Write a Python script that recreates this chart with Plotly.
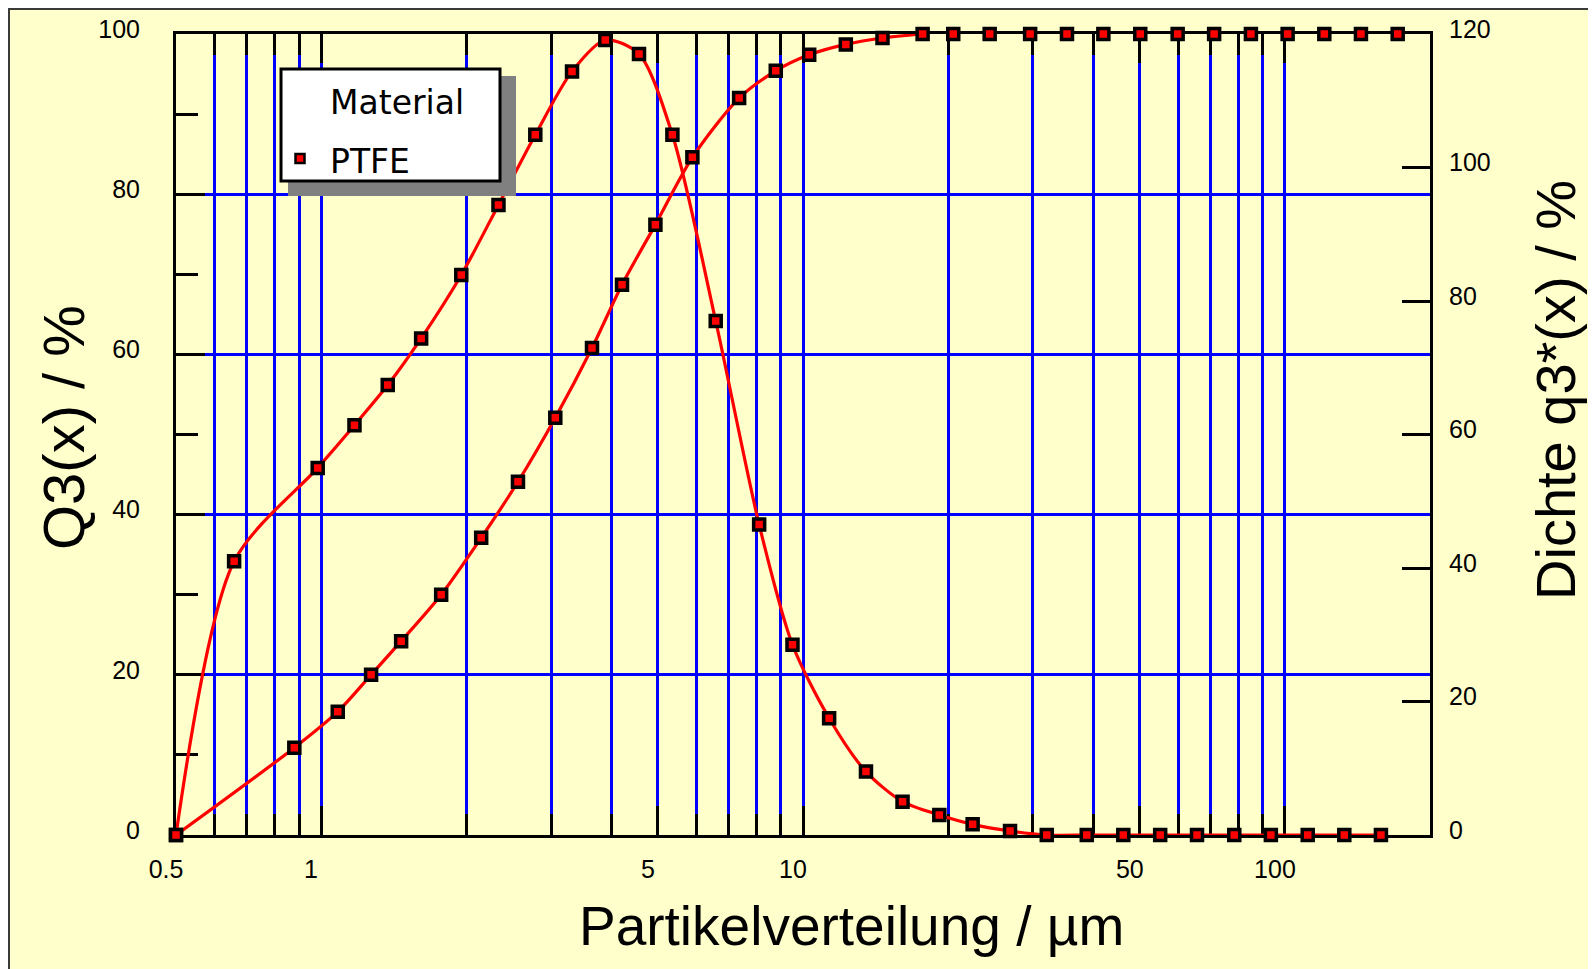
import plotly.graph_objects as go

# ---------------- data ----------------
# cumulative distribution Q3(x), left axis
q3_x = [0.5, 0.88, 1.083, 1.27, 1.466, 1.775, 2.149, 2.562, 3.062, 3.649, 4.212,
        4.94, 5.895, 7.37, 8.78, 10.3, 12.27, 14.62, 17.71, 20.5, 24.4, 29.6,
        35.3, 42.0, 50.1, 59.9, 71.3, 85.0, 101.3, 120.7, 143.8, 171.4]
q3_y = [0, 10.9, 15.4, 20.0, 24.2, 30.0, 37.1, 44.1, 52.1, 60.8, 68.7,
        76.2, 84.6, 92.0, 95.4, 97.4, 98.7, 99.5, 100, 100, 100, 100,
        100, 100, 100, 100, 100, 100, 100, 100, 100, 100]
q3_line_points = 19  # the Q3 curve is only drawn up to ~17.7 µm

# density distribution q3*(x), right axis
dens_x = [0.5, 0.66, 0.984, 1.173, 1.375, 1.613, 1.954, 2.334, 2.783, 3.317, 3.889,
          4.568, 5.358, 6.59, 8.11, 9.51, 11.33, 13.51, 16.09, 19.18, 22.49, 26.89,
          32.05, 38.8, 46.2, 55.1, 65.7, 78.5, 93.5, 111.5, 132.8, 158.2]
dens_y = [0, 41.0, 55.0, 61.4, 67.4, 74.4, 83.9, 94.4, 104.9, 114.4, 119.1,
          117.0, 104.9, 77.0, 46.5, 28.5, 17.5, 9.5, 5.0, 3.0, 1.6, 0.6,
          0, 0, 0, 0, 0, 0, 0, 0, 0, 0]

x_major = [0.5, 1, 5, 10, 50, 100]
x_major_text = ["0.5", "1", "5", "10", "50", "100"]
x_minor = [0.6, 0.7, 0.8, 0.9, 2, 3, 4, 6, 7, 8, 9, 20, 30, 40, 60, 70, 80, 90]
y_left_major = [0, 20, 40, 60, 80, 100]
y_left_minor = [10, 30, 50, 70, 90]
y_right_major = [0, 20, 40, 60, 80, 100, 120]

series_name = "PTFE"
legend_title = "Material"
x_title = "Partikelverteilung / µm"
y_title = "Q3(x) / %"
y2_title = "Dichte q3*(x) / %"

# ---------------- layout geometry (pixels, page coordinates) ----------------
OFF = 8                      # default body margin of the html page
W, H = 1596 - OFF, 969 - OFF
L, R, T, B = 176, 1430, 34, 835
PW, PH = R - L, B - T


def px(xp):
    return (xp - L) / PW


def py(yp):
    return (B - yp) / PH


RED = "#FF0000"
BLUE = "#0000FF"
BG = "#FFFFCC"
FONT = "Liberation Sans, Arial, sans-serif"
TICKFONT = "Liberation Sans Narrow, Arial Narrow, Liberation Sans, Arial, sans-serif"

fig = go.Figure()

fig.add_trace(go.Scatter(
    x=q3_x[:q3_line_points], y=q3_y[:q3_line_points], mode="lines",
    line=dict(color=RED, width=3.2, shape="spline", smoothing=0.8),
    hoverinfo="skip", showlegend=False, yaxis="y", cliponaxis=False))
fig.add_trace(go.Scatter(
    x=dens_x, y=dens_y, mode="lines",
    line=dict(color=RED, width=3.2, shape="spline", smoothing=0.8),
    hoverinfo="skip", showlegend=False, yaxis="y2", cliponaxis=False))

marker_style = dict(symbol="square", size=11, color=RED,
                    line=dict(color="black", width=3.5))
fig.add_trace(go.Scatter(
    x=q3_x, y=q3_y, mode="markers", marker=marker_style, name=series_name,
    showlegend=False, yaxis="y", cliponaxis=False))
fig.add_trace(go.Scatter(
    x=dens_x, y=dens_y, mode="markers", marker=marker_style, name=series_name,
    showlegend=False, yaxis="y2", cliponaxis=False))

tickfont = dict(family=TICKFONT, size=25, color="black")

fig.update_layout(
    width=W, height=H,
    margin=dict(l=L - OFF, r=W - (R - OFF), t=T - OFF, b=H - (B - OFF),
                autoexpand=False),
    paper_bgcolor="white",
    plot_bgcolor="rgba(0,0,0,0)",
    showlegend=False,
    xaxis=dict(
        type="log", range=[-0.30103, 2.30103],
        tickmode="array", tickvals=x_major, ticktext=x_major_text,
        ticks="inside", ticklen=29, tickwidth=3, tickcolor="black",
        showgrid=True, gridcolor=BLUE, gridwidth=3,
        minor=dict(tickmode="array", tickvals=x_minor, ticks="inside",
                   ticklen=21, tickwidth=3, tickcolor="black",
                   showgrid=True, gridcolor=BLUE, gridwidth=3),
        showline=True, linecolor="black", linewidth=3, mirror="ticks",
        tickfont=tickfont, ticklabelshift=-10, ticklabelstandoff=10,
        zeroline=False, layer="below traces",
    ),
    yaxis=dict(
        range=[0, 100], tickmode="array", tickvals=y_left_major,
        ticks="inside", ticklen=29, tickwidth=3, tickcolor="black",
        showgrid=True, gridcolor=BLUE, gridwidth=3,
        minor=dict(tickmode="array", tickvals=y_left_minor, ticks="inside",
                   ticklen=22, tickwidth=3, tickcolor="black", showgrid=False),
        showline=True, linecolor="black", linewidth=3,
        tickfont=tickfont, ticklabelshift=-5, ticklabelstandoff=28,
        zeroline=False, layer="below traces",
    ),
    yaxis2=dict(
        range=[0, 120], overlaying="y", side="right", anchor="x",
        tickmode="array", tickvals=y_right_major,
        ticks="inside", ticklen=28, tickwidth=3, tickcolor="black",
        showgrid=False, showline=True, linecolor="black", linewidth=3,
        tickfont=tickfont, ticklabelshift=-5, ticklabelstandoff=11,
        zeroline=False, layer="below traces",
    ),
)

shapes = []
# outer frame
shapes.append(dict(type="rect", xref="paper", yref="paper", layer="below",
                   x0=px(9), x1=px(1594), y0=py(975), y1=py(9),
                   fillcolor=BG, line=dict(color="#3a3a3a", width=2)))
# legend shadow + box
shapes.append(dict(type="rect", xref="paper", yref="paper", layer="above",
                   x0=px(288), x1=px(516), y0=py(196), y1=py(76),
                   fillcolor="#808080", line=dict(width=0)))
shapes.append(dict(type="rect", xref="paper", yref="paper", layer="above",
                   x0=px(281), x1=px(500), y0=py(181), y1=py(69),
                   fillcolor="white", line=dict(color="black", width=3)))
# legend symbol
shapes.append(dict(type="rect", xref="paper", yref="paper", layer="above",
                   x0=px(295.5), x1=px(304.5), y0=py(163), y1=py(154),
                   fillcolor=RED, line=dict(color="black", width=2.5)))

legend_font = dict(family="DejaVu Sans, sans-serif", size=33, color="black")
annotations = [
    dict(text=legend_title, xref="paper", yref="paper", x=px(328), y=py(103),
         xanchor="left", yanchor="middle", showarrow=False, font=legend_font),
    dict(text=series_name, xref="paper", yref="paper", x=px(328), y=py(162),
         xanchor="left", yanchor="middle", showarrow=False, font=legend_font),
    dict(text=x_title, xref="paper", yref="paper", x=px(851), y=py(926),
         xanchor="center", yanchor="middle", showarrow=False,
         font=dict(family=FONT, size=55, color="black")),
    dict(text=y_title, xref="paper", yref="paper", x=px(63), y=py(428),
         xanchor="center", yanchor="middle", showarrow=False, textangle=-90,
         font=dict(family=FONT, size=58, color="black")),
    dict(text=y2_title, xref="paper", yref="paper", x=px(1555), y=py(390),
         xanchor="center", yanchor="middle", showarrow=False, textangle=-90,
         font=dict(family=FONT, size=56, color="black")),
]

fig.update_layout(shapes=shapes, annotations=annotations)

fig.write_html("out.html")
